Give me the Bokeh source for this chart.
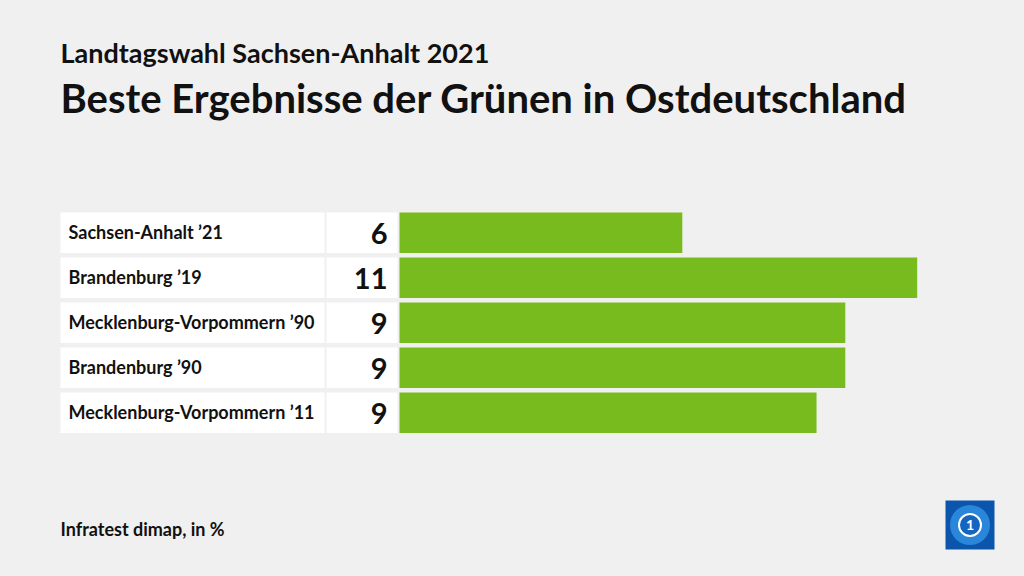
from bokeh.plotting import figure
from bokeh.models import Range1d
from bokeh.core.properties import value
from bokeh.embed import file_html
from bokeh.resources import INLINE

# ---- data ----
categories = ["Sachsen-Anhalt \u201921", "Brandenburg \u201919", "Mecklenburg-Vorpommern \u201990",
              "Brandenburg \u201990", "Mecklenburg-Vorpommern \u201911"]
values = [5.9, 10.8, 9.3, 9.3, 8.7]
value_labels = ["6", "11", "9", "9", "9"]
title_top = "Landtagswahl Sachsen-Anhalt 2021"
title_main = "Beste Ergebnisse der Gr\u00fcnen in Ostdeutschland"
footer = "Infratest dimap, in %"

# ---- layout helpers (reference pixel coords -> data coords) ----
W, H = 1008, 560
BAR0 = 399.0            # px where value 0 sits
S = 517.7 / 10.8        # px per unit
PITCH = 45.0
ROW0 = 232.2            # px of first row centre

def px2x(px):
    return (px - BAR0) / S

def py2y(py):
    return (py - ROW0) / PITCH

BG = "#f0f0f0"
GREEN = "#78bb1e"
FONT = "Lato"
TXT = "#111111"

p = figure(width=W, height=H, output_backend="svg", toolbar_location=None,
           x_range=Range1d(px2x(0), px2x(W)),
           y_range=Range1d(py2y(H), py2y(0)),
           min_border=0, border_fill_color=BG, background_fill_color=BG,
           outline_line_color=None)
p.axis.visible = False
p.grid.visible = False

rows = list(range(len(categories)))
bh = 40.6 / PITCH

# label boxes and value boxes
p.hbar(y=rows, left=px2x(60), right=px2x(324), height=bh, fill_color="white", line_color=None)
p.hbar(y=rows, left=px2x(326), right=px2x(397), height=bh, fill_color="white", line_color=None)
# bars
p.hbar(y=rows, left=0, right=values, height=bh, fill_color=GREEN, line_color=None)

# category labels
p.text(x=px2x(68), y=[r - 1.0 / PITCH for r in rows], text=categories,
       text_font=value(FONT), text_font_size="18px", text_font_style="bold",
       text_baseline="middle", text_align="left", text_color=TXT)
# value labels
p.text(x=px2x(387), y=[r + 0.5 / PITCH for r in rows], text=value_labels,
       text_font=value(FONT), text_font_size="29px", text_font_style="bold",
       text_baseline="middle", text_align="right", text_color=TXT)

# titles / footer
p.text(x=[px2x(60)], y=[py2y(52)], text=[title_top], text_font=value(FONT),
       text_font_size="27px", text_font_style="bold", text_baseline="middle",
       text_color=TXT)
p.text(x=[px2x(60)], y=[py2y(97)], text=[title_main], text_font=value(FONT),
       text_font_size="40px", text_font_style="bold", text_baseline="middle",
       text_color=TXT)
p.text(x=[px2x(60)], y=[py2y(528)], text=[footer], text_font=value(FONT),
       text_font_size="18px", text_font_style="bold", text_baseline="middle",
       text_color=TXT)

# logo (decoration)
p.quad(left=px2x(945), right=px2x(994), top=py2y(500), bottom=py2y(549),
       fill_color="#0b55ac", line_color=None)
p.ellipse(x=px2x(969.5), y=py2y(524.5), width=40 / S, height=40 / PITCH,
          fill_color="#2a86d8", line_color=None)
p.ellipse(x=px2x(969.5), y=py2y(524.5), width=22 / S, height=22 / PITCH,
          fill_color="#1565c0", line_color="white", line_width=2)
p.text(x=[px2x(969.5)], y=[py2y(524.5)], text=["1"], text_font=value(FONT),
       text_font_size="14px", text_font_style="bold", text_baseline="middle",
       text_align="center", text_color="white")

html = file_html(p, INLINE)
html = html.replace("<head>", "<head><style>html,body{background:%s;}</style>" % BG, 1)
open("out.html", "w").write(html)
